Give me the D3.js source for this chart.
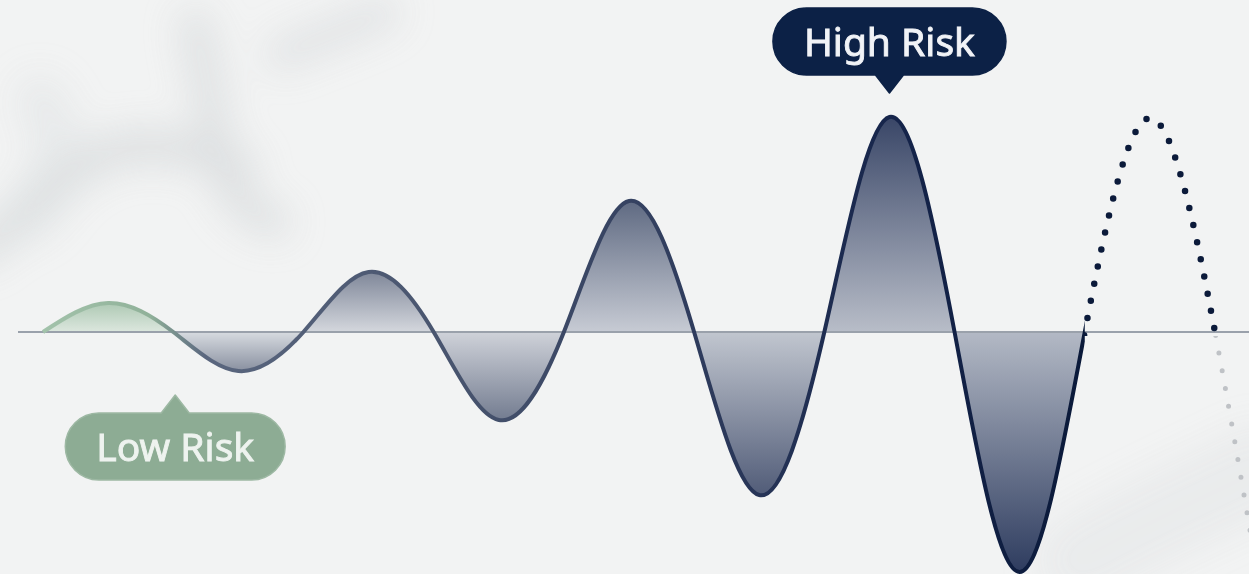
<!DOCTYPE html>
<html>
<head>
<meta charset="utf-8">
<script src="https://cdn.jsdelivr.net/npm/d3@7"></script>
<style>
  html, body { margin: 0; padding: 0; background: #f2f3f3; overflow: hidden; }
  svg { display: block; }
</style>
</head>
<body>
<svg id="chart"></svg>
<script>
// quarter-period steps of the swing and the signed risk level reached at each one
const steps  = [0, 1, 2, 3, 4, 5, 6, 7, 8, 9, 10, 11, 12, 13, 14, 15, 16, 17, 18, 19];
const levels = [0, 29, 0, -39, 0, 60, 0, -88, 0, 131, 0, -163, 0, 215, 0, -240, 0, 214, 0, -380];
const measuredUntil = 16;   // solid part ends here, the rest is projected
const projectedUntil = 18;  // dark dots up to here, faded dots after

// callout labels: text, step they point at, level they sit next to
const labelTexts  = ["Low Risk", "High Risk"];
const labelSteps  = [2, 13];
const labelLevels = [-39, 215];

const width = 1249, height = 574;
const points = steps.map((t, i) => ({t: t, v: levels[i]}));

const svg = d3.select("#chart").attr("width", width).attr("height", height);
const defs = svg.append("defs");

const x = d3.scaleLinear().domain([0, 18]).range([43, 1215]);
const y = d3.scaleLinear().domain([-250, 250]).range([582, 82]);

// Blurry background smudges
defs.append("filter").attr("id", "blur")
  .attr("x", "-50%").attr("y", "-50%").attr("width", "200%").attr("height", "200%")
  .append("feGaussianBlur").attr("stdDeviation", 18);

const smudges = svg.append("g").attr("filter", "url(#blur)")
  .attr("fill", "none").attr("stroke", "#d8dbdd").attr("stroke-linecap", "round")
  .attr("opacity", 0.8);
smudges.append("path").attr("stroke-width", 34)
  .attr("d", "M-20 250 C30 210 70 165 115 150 C160 140 200 150 240 168");
smudges.append("path").attr("stroke-width", 30)
  .attr("d", "M195 25 C205 70 212 120 222 165 C232 200 250 215 275 222");
smudges.append("path").attr("stroke-width", 30).attr("opacity", 0.8)
  .attr("d", "M280 55 C310 42 345 30 385 12");
smudges.append("path").attr("stroke-width", 50).attr("opacity", 0.45)
  .attr("d", "M40 100 C60 130 70 170 30 215");
smudges.append("path").attr("stroke-width", 90).attr("opacity", 0.35)
  .attr("d", "M1080 560 C1150 520 1200 500 1260 470");

// Generators
const line = d3.line().x(d => x(d.t)).y(d => y(d.v)).curve(d3.curveNatural);
const area = d3.area().x(d => x(d.t)).y0(y(0)).y1(d => y(d.v)).curve(d3.curveNatural);

// Fills, one gradient per lobe
const extColor = d3.scaleLinear().domain([30, 240]).range(["#8d94a3", "#2e3c5f"]).clamp(true);
const baseColor = d3.scaleLinear().domain([30, 240]).range(["#d9dce1", "#b3b9c5"]).clamp(true);

const lobes = d3.range(0, measuredUntil, 2).map(t0 => {
  const peak = points.find(p => p.t === t0 + 1);
  return {t0: t0, t1: t0 + 2, v: peak.v};
});

const fills = svg.append("g");
lobes.forEach((lb, i) => {
  const g = defs.append("linearGradient").attr("id", "lobe" + i)
    .attr("gradientUnits", "userSpaceOnUse")
    .attr("x1", 0).attr("x2", 0).attr("y1", y(0)).attr("y2", y(lb.v));
  const green = i === 0;
  g.append("stop").attr("offset", 0).attr("stop-color", green ? "#dce7de" : baseColor(Math.abs(lb.v)));
  g.append("stop").attr("offset", 1).attr("stop-color", green ? "#aec9b4" : extColor(Math.abs(lb.v)));

  defs.append("clipPath").attr("id", "clip" + i).append("rect")
    .attr("x", x(lb.t0)).attr("width", x(lb.t1) - x(lb.t0))
    .attr("y", 0).attr("height", height);

  fills.append("path").datum(points)
    .attr("clip-path", `url(#clip${i})`)
    .attr("fill", `url(#lobe${i})`)
    .attr("d", area);
});

// Baseline
svg.append("line")
  .attr("x1", 18).attr("x2", width)
  .attr("y1", y(0)).attr("y2", y(0))
  .attr("stroke", "#9aa1ab").attr("stroke-width", 2);

// Stroke colour drifts from green to navy
const strokeGrad = defs.append("linearGradient").attr("id", "strokeGrad")
  .attr("gradientUnits", "userSpaceOnUse")
  .attr("x1", 0).attr("x2", width).attr("y1", 0).attr("y2", 0);
[[40, "#a3c3ab"], [150, "#90b199"], [205, "#5a667e"], [450, "#48546e"],
 [700, "#2e3b5c"], [900, "#15244a"], [1090, "#0a1939"]].forEach(s => {
  strokeGrad.append("stop").attr("offset", s[0] / width).attr("stop-color", s[1]);
});

defs.append("clipPath").attr("id", "clipSolid").append("rect")
  .attr("x", 0).attr("width", x(measuredUntil)).attr("y", 0).attr("height", height);
defs.append("clipPath").attr("id", "clipDots").append("rect")
  .attr("x", x(measuredUntil)).attr("width", x(projectedUntil) - x(measuredUntil) + 3)
  .attr("y", 0).attr("height", y(0) + 4);
defs.append("clipPath").attr("id", "clipFaded").append("rect")
  .attr("x", x(projectedUntil) - 10).attr("width", 200)
  .attr("y", y(0) + 4).attr("height", height);

svg.append("path").datum(points)
  .attr("clip-path", "url(#clipSolid)")
  .attr("fill", "none")
  .attr("stroke", "url(#strokeGrad)")
  .attr("stroke-width", 4)
  .attr("stroke-linejoin", "round")
  .attr("d", line);

svg.append("path").datum(points)
  .attr("clip-path", "url(#clipDots)")
  .attr("fill", "none")
  .attr("stroke", "#0b1a3a")
  .attr("stroke-width", 6.5)
  .attr("stroke-linecap", "round")
  .attr("stroke-dasharray", "0 17.5")
  .attr("d", line);

svg.append("path").datum(points)
  .attr("clip-path", "url(#clipFaded)")
  .attr("fill", "none")
  .attr("stroke", "#bfc2c6")
  .attr("stroke-width", 5)
  .attr("stroke-linecap", "round")
  .attr("stroke-dasharray", "0 18")
  .attr("d", line);

// Callouts
const pillH = 67, tipH = 18, tipW = 28, gap = 24, padX = 31;

function pillPath(cx, top, w, tipUp) {
  const r = pillH / 2, l = cx - w / 2, rgt = cx + w / 2, bot = top + pillH;
  const p = d3.path();
  p.moveTo(l + r, top);
  if (tipUp) {
    p.lineTo(cx - tipW / 2, top);
    p.lineTo(cx, top - tipH);
    p.lineTo(cx + tipW / 2, top);
  }
  p.lineTo(rgt - r, top);
  p.arc(rgt - r, top + r, r, -Math.PI / 2, Math.PI / 2);
  if (!tipUp) {
    p.lineTo(cx + tipW / 2, bot);
    p.lineTo(cx, bot + tipH);
    p.lineTo(cx - tipW / 2, bot);
  }
  p.lineTo(l + r, bot);
  p.arc(l + r, top + r, r, Math.PI / 2, Math.PI * 1.5);
  p.closePath();
  return p.toString();
}

labelTexts.forEach((txt, i) => {
  const cx = x(labelSteps[i]) + (i === 0 ? 2 : 0);
  const below = labelLevels[i] < 0;
  const tipY = below ? y(labelLevels[i]) + gap : y(labelLevels[i]) - gap;
  const top = below ? tipY + tipH : tipY - tipH - pillH;
  const textColor = below ? "#eef3ef" : "#f1f3f7";
  const g = svg.append("g");
  const bg = g.append("path")
    .attr("fill", below ? "#8dac94" : "#0c2146")
    .attr("stroke", below ? "#9db8a3" : "#0c2146")
    .attr("stroke-width", 1.5)
    .attr("stroke-linejoin", "round");
  const t = g.append("text")
    .attr("x", cx).attr("y", top + pillH / 2)
    .attr("dy", "0.36em")
    .attr("text-anchor", "middle")
    .attr("font-family", "'Noto Sans', sans-serif")
    .attr("font-size", 39)
    .attr("fill", textColor)
    .attr("stroke", textColor)
    .attr("stroke-width", 0.9)
    .text(txt);
  const w = t.node().getComputedTextLength() + 2 * padX;
  bg.attr("d", pillPath(cx, top, w, below));
});
</script>
</body>
</html>
